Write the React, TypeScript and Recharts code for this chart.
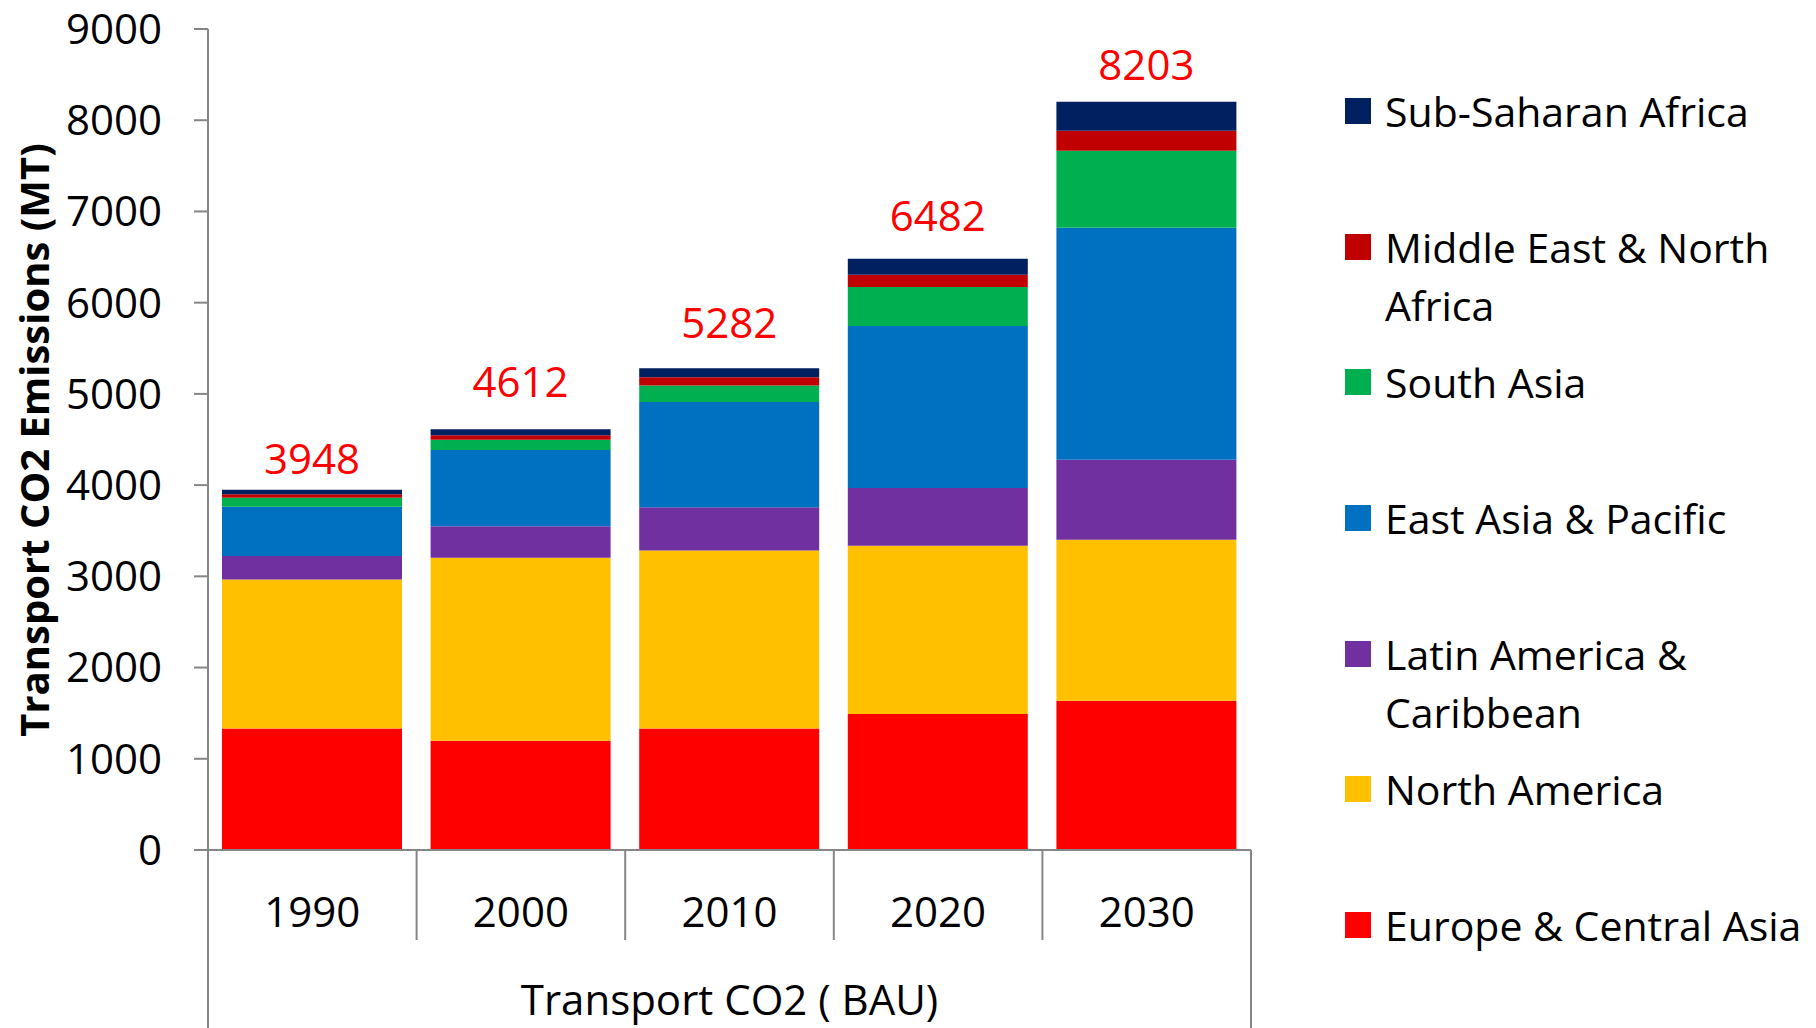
import React from "react";
import { BarChart, Bar, XAxis, YAxis, Legend, LabelList } from "recharts";

const YEARS = ["1990", "2000", "2010", "2020", "2030"];
const EUROPE_CA = [1332, 1197, 1332, 1490, 1637];
const NORTH_AMERICA = [1634, 2006, 1950, 1845, 1764];
const LATIN_AMERICA = [256, 346, 474, 632, 877];
const EAST_ASIA = [542, 836, 1156, 1777, 2543];
const SOUTH_ASIA = [98, 113, 180, 427, 844];
const MENA = [37, 48, 91, 135, 220];
const SUB_SAHARAN = [49, 66, 99, 176, 318];
const TOTALS = [3948, 4612, 5282, 6482, 8203];
const Y_TICKS = [0, 1000, 2000, 3000, 4000, 5000, 6000, 7000, 8000, 9000];

const SERIES = [
  { key: "eca", name: "Europe & Central Asia", color: "#FF0000", values: EUROPE_CA },
  { key: "na", name: "North America", color: "#FFC000", values: NORTH_AMERICA },
  { key: "lac", name: "Latin America & Caribbean", color: "#7030A0", values: LATIN_AMERICA },
  { key: "eap", name: "East Asia & Pacific", color: "#0070C0", values: EAST_ASIA },
  { key: "sa", name: "South Asia", color: "#00B050", values: SOUTH_ASIA },
  { key: "mena", name: "Middle East & North Africa", color: "#C00000", values: MENA },
  { key: "ssa", name: "Sub-Saharan Africa", color: "#002060", values: SUB_SAHARAN },
];

const data = YEARS.map((year, i) => {
  const row: Record<string, string | number> = { year, total: TOTALS[i] };
  SERIES.forEach((s) => (row[s.key] = s.values[i]));
  return row;
});

const FONT = "'Open Sans', 'Noto Sans', sans-serif";
const W = 1816;
const H = 1028;
const PLOT_L = 208;
const PLOT_R = 1251;
const PLOT_T = 29;
const PLOT_B = 850;
const BAND = (PLOT_R - PLOT_L) / YEARS.length;
const AXIS = "#868686";
// label gaps above each bar top (hand placed in the original)
const LABEL_GAP = [32, 49, 47, 44, 38];

const XTick = (props: any) => {
  const { x, y, payload, index } = props;
  const half = BAND / 2;
  const last = index === YEARS.length - 1;
  return (
    <g>
      <line x1={x - half} y1={y} x2={x - half} y2={index === 0 ? H : y + 90} stroke={AXIS} strokeWidth={2} />
      {last && <line x1={x + half} y1={y} x2={x + half} y2={H} stroke={AXIS} strokeWidth={2} />}
      <text x={x} y={910} textAnchor="middle" dominantBaseline="central" fontFamily={FONT} fontSize={42} fill="#000">
        {payload.value}
      </text>
    </g>
  );
};

const YTitle = () => (
  <text x={33} y={440} transform="rotate(-90 33 440)" textAnchor="middle" dominantBaseline="central"
    fontFamily={FONT} fontWeight={700} fontSize={40} fill="#000">
    Transport CO2 Emissions (MT)
  </text>
);

const XTitle = () => (
  <text x={(PLOT_L + PLOT_R) / 2} y={998} textAnchor="middle" dominantBaseline="central"
    fontFamily={FONT} fontSize={42} fill="#000">
    Transport CO2 ( BAU)
  </text>
);

const TotalLabel = (props: any) => {
  const { x, y, width, value, index } = props;
  return (
    <text x={x + width / 2} y={y - LABEL_GAP[index]} textAnchor="middle" dominantBaseline="central"
      fill="#FF0000" fontFamily={FONT} fontSize={42}>
      {value}
    </text>
  );
};

const renderLegend = () => (
  <div style={{ fontFamily: FONT, fontSize: 41, color: "#000" }}>
    {[...SERIES].reverse().map((s) => (
      <div key={s.key} style={{ height: 135.7, display: "flex", alignItems: "flex-start" }}>
        <span style={{ width: 26, height: 26, background: s.color, marginTop: 16, flex: "none" }} />
        <span style={{ marginLeft: 14, lineHeight: "58px", width: 430 }}>{s.name}</span>
      </div>
    ))}
  </div>
);

export default function App() {
  return (
    <div style={{ position: "absolute", left: 0, top: 0, width: W, height: H, background: "#fff" }}>
      <BarChart width={W} height={H} data={data} barSize={180}
        margin={{ top: PLOT_T, right: W - PLOT_R, bottom: 0, left: 0 }}>
        <XAxis dataKey="year" height={H - PLOT_B} axisLine={{ stroke: AXIS, strokeWidth: 2 }}
          tickLine={false} tickSize={0} tickMargin={0} tick={<XTick />} interval={0} label={<XTitle />} />
        <YAxis width={PLOT_L} domain={[0, 9000]} ticks={Y_TICKS} interval={0}
          axisLine={{ stroke: AXIS, strokeWidth: 2 }} tickLine={{ stroke: AXIS, strokeWidth: 2 }}
          tickSize={14} tickMargin={32}
          tick={{ fontFamily: FONT, fontSize: 42, fill: "#000" }} label={<YTitle />} />
        <Legend layout="vertical" align="center" verticalAlign="middle" content={renderLegend}
          wrapperStyle={{ left: 1345, top: 82, width: 471, height: "auto" }} />
        {SERIES.map((s, i) => (
          <Bar key={s.key} dataKey={s.key} name={s.name} stackId="a" fill={s.color} isAnimationActive={false}>
            {i === SERIES.length - 1 && <LabelList dataKey="total" content={<TotalLabel />} />}
          </Bar>
        ))}
      </BarChart>
    </div>
  );
}
